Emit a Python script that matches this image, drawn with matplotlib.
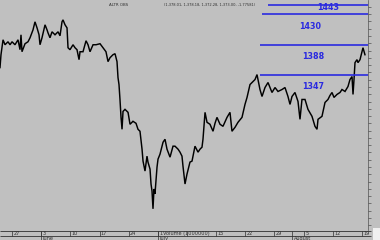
import matplotlib
matplotlib.use("Agg")
import matplotlib.pyplot as plt
from matplotlib.patches import Rectangle

# ---- data ----
days = [-2.06, -1.89, -1.54, -1.20, -0.69, -0.34, 0.00, 0.51, 1.03, 1.37, 1.54, 1.71, 2.23, 2.74, 3.09,
        3.60, 3.94, 4.29, 4.63, 4.80, 5.14, 5.66, 6.00, 6.17, 6.51, 6.86, 7.37, 7.89, 8.23, 8.57, 8.74,
        9.09, 9.43, 9.60, 9.94, 10.46, 10.80, 11.14, 11.49, 11.66, 12.17, 12.69, 13.03, 13.37, 13.89,
        14.40, 15.09, 15.60, 16.11, 16.46, 16.80, 17.31, 17.66, 18.00, 18.17, 18.34, 18.51, 18.69, 18.86,
        19.03, 19.37, 19.89, 20.23, 20.74, 21.26, 21.60, 21.94, 22.29, 22.46, 22.80, 23.14, 23.31, 23.66,
        23.83, 24.00, 24.17, 24.34, 24.51, 24.86, 25.03, 25.37, 25.89, 26.23, 26.57, 27.09, 27.60, 27.94,
        28.46, 28.80, 29.14, 29.31, 29.66, 30.00, 30.51, 30.86, 31.37, 31.89, 32.23, 32.57, 32.74, 33.09,
        33.43, 33.94, 34.46, 34.80, 35.14, 35.66, 36.17, 36.86, 37.37, 37.71, 38.23, 38.74, 39.43, 39.94,
        40.29, 40.80, 41.14, 41.66, 42.00, 42.17, 42.51, 42.86, 43.37, 43.89, 44.23, 44.57, 45.09, 45.60,
        46.29, 46.80, 47.31, 47.66, 48.00, 48.51, 49.03, 49.37, 49.71, 50.23, 50.74, 51.43, 51.94, 52.29,
        52.46, 53.14, 53.66, 54.17, 54.51, 54.86, 55.20, 55.71, 56.23, 56.57, 57.09, 57.60, 57.94, 58.29,
        58.46, 58.63, 58.80, 59.14, 59.31, 59.66, 60.00, 60.17, 60.51]
price = [1356.6, 1374.3, 1394.8, 1388.0, 1392.1, 1388.0, 1392.1, 1388.0, 1394.8, 1381.2, 1401.7, 1378.4,
         1389.4, 1392.1, 1397.6, 1408.5, 1419.5, 1411.2, 1401.7, 1388.0, 1397.6, 1415.4, 1408.5, 1404.4,
         1397.6, 1405.8, 1401.7, 1405.8, 1400.3, 1419.5, 1422.2, 1415.4, 1411.2, 1383.9, 1381.2, 1388.0,
         1383.9, 1381.2, 1367.5, 1378.4, 1378.4, 1393.5, 1388.0, 1378.4, 1388.0, 1388.0, 1389.4, 1383.9,
         1378.4, 1364.8, 1370.2, 1374.3, 1375.7, 1364.8, 1342.9, 1333.3, 1312.8, 1288.2, 1271.8, 1296.4,
         1299.2, 1295.1, 1278.7, 1282.8, 1280.0, 1271.8, 1269.1, 1244.5, 1228.1, 1214.4, 1234.9, 1226.7,
         1217.1, 1196.6, 1187.0, 1162.5, 1189.8, 1183.0, 1219.9, 1230.8, 1237.6, 1254.0, 1258.1, 1244.5,
         1233.5, 1248.6, 1248.6, 1244.5, 1240.4, 1234.9, 1221.2, 1196.6, 1210.3, 1226.7, 1228.1, 1248.6,
         1240.4, 1244.5, 1247.2, 1258.1, 1295.1, 1281.4, 1278.7, 1269.1, 1280.0, 1288.2, 1278.7, 1275.9,
         1288.2, 1295.1, 1269.1, 1274.5, 1281.4, 1288.2, 1306.0, 1315.6, 1333.3, 1336.1, 1340.2, 1347.0,
         1340.2, 1326.5, 1316.9, 1329.2, 1336.1, 1329.2, 1322.4, 1329.2, 1323.8, 1326.5, 1329.2, 1316.9,
         1306.0, 1316.9, 1322.4, 1310.1, 1285.5, 1312.8, 1312.8, 1299.2, 1289.6, 1275.9, 1271.8, 1285.5,
         1289.6, 1308.7, 1312.8, 1318.3, 1322.4, 1315.6, 1319.7, 1322.4, 1326.5, 1323.8, 1330.6, 1340.2,
         1344.3, 1319.7, 1340.2, 1363.4, 1367.5, 1363.4, 1367.5, 1378.4, 1383.9, 1374.3]

levels = [1443, 1430, 1388, 1347]
level_start_day = [43.9, 42.9, 42.5, 42.5]
level_labels = ["1443", "1430", "1388", "1347"]

tick_days = [0, 5, 10, 15, 20, 25, 30, 35, 40, 45, 50, 55, 60]
tick_labels = ["27", "3", "10", "17", "24", "1", "", "15", "22", "29", "5", "12", "19"]
month_days = [5.0, 25.0, 48.0]
month_labels = ["June", "July", "August"]

header_name = "ALTR OBS"
header_vals = "(1,378.01, 1,378.18, 1,372.28, 1,373.00, -1.77581)"

BG = "#c0c0c0"
BLUE = "#2a2ae0"

W, H = 380, 240
fig = plt.figure(figsize=(W / 100, H / 100), dpi=100, facecolor=BG)

xl = (-2.06, 61.03)
ax = fig.add_axes([0, 10 / H, 368 / W, 230 / H])
ax.set_facecolor(BG)
ax.set_xlim(*xl)
ax.set_ylim(1133.4, 1449.5)
ax.plot(days, price, color="black", lw=1.05, solid_joinstyle="miter")

for lv, sd, lab in zip(levels, level_start_day, level_labels):
    ax.hlines(lv, sd, xl[1], color=BLUE, lw=1.2)
for lv, lab, dx, dy in zip(levels, level_labels, [54.2, 51.1, 51.6, 51.6], [-3, -12, -12, -12]):
    ax.annotate(lab, xy=(dx, lv), xytext=(0, dy * 0.72), textcoords="offset points",
                ha="center", va="center", color=BLUE, fontsize=5.8, fontweight="bold")

for s in ["left", "top", "bottom"]:
    ax.spines[s].set_visible(False)
ax.spines["right"].set_color("#505050")
ax.spines["right"].set_linewidth(0.5)
ax.set_xticks([])
ax.yaxis.tick_right()
ax.set_yticks(list(range(1140, 1450, 10)))
ax.tick_params(axis="y", direction="out", length=2.5, width=0.5, colors="#505050", labelright=False)

# bottom strip
ax2 = fig.add_axes([0, 0, 372 / W, 10 / H])
ax2.set_xlim(xl[0], xl[0] + (xl[1] - xl[0]) * 372 / 368)
ax2.set_ylim(240, 230)
ax2.axis("off")
ax2.hlines([230.7, 235.7], xl[0], xl[1] + 0.6, color="#303030", lw=0.6)
for d, lab in zip(tick_days, tick_labels):
    ax2.vlines(d, 230.7, 235.7, color="#303030", lw=0.5)
    ax2.text(d + 0.25, 233.3, lab, fontsize=3.6, va="center", ha="left", color="#303030")
for d, lab in zip(month_days, month_labels):
    ax2.vlines(d, 230.7, 240, color="#303030", lw=0.5)
    ax2.text(d + 0.25, 238.3, lab, fontsize=3.6, va="center", ha="left", color="#303030")
ax2.text(25.9, 233.3, "Volume (1000000)", fontsize=3.6, va="center", ha="left", color="#303030")

fig.text(119 / W, 1 - 4.5 / H, header_name, fontsize=2.9, ha="center", va="center", color="#303030")
fig.text(164 / W, 1 - 4.5 / H, header_vals, fontsize=2.6, ha="left", va="center", color="#303030")
fig.patches.append(Rectangle((373 / W, 0), 7 / W, 12 / H, transform=fig.transFigure,
                             facecolor="#f0f0f0", edgecolor="none"))

fig.savefig("out.png", dpi=100, facecolor=BG)
